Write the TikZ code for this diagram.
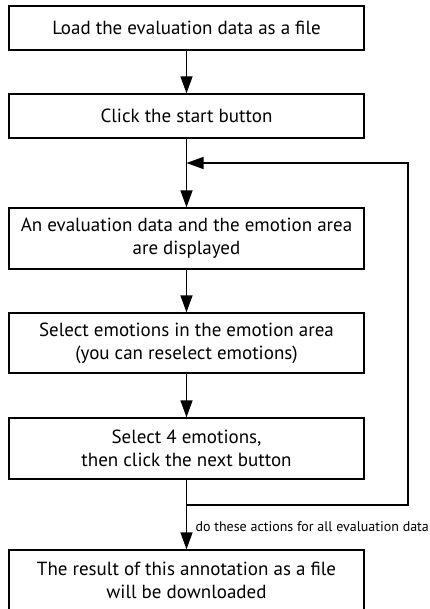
\documentclass[tikz,border=0pt]{standalone}
\usepackage{fontspec}
\setmainfont{PT Sans}
\usetikzlibrary{arrows.meta}

\tikzset{
  stepbox/.style={draw, line width=1.4pt, minimum width=355pt, inner sep=2pt, align=center, font=\fontsize{19}{23}\selectfont},
  flow/.style={line width=1.4pt, -{Triangle[length=17pt,width=12pt]}}
}

\begin{document}
\begin{tikzpicture}[x=1pt,y=-1pt]
			\useasboundingbox (0,0) rectangle (429,609);
			\node[stepbox, minimum height=44pt] (load) at (186.5,28) {Load the evaluation data as a file};
			\node[stepbox, minimum height=44pt] (start) at (186.5,116) {Click the start button};
			\node[stepbox, minimum height=61pt] (show) at (186.5,238.5) {An evaluation data and the emotion area\\are displayed};
			\node[stepbox, minimum height=60pt] (select) at (186.5,343) {Select emotions in the emotion area\\(you can reselect emotions)};
			\node[stepbox, minimum height=61pt] (next) at (186.5,448.5) {Select 4 emotions,\\then click the next button};
			\node[stepbox, minimum height=60pt] (result) at (186.5,580) {The result of this annotation as a file\\will be downloaded};
			\coordinate (join) at (186.5,163);
			\coordinate (split) at (186.5,505);
			\coordinate (corner) at (408,505);
			\draw[flow] (load) -- (start);
			\draw[flow] (start) -- (show);
			\draw[flow] (show) -- (select);
			\draw[flow] (select) -- (next);
			\draw[flow] (next) -- (result);
			\draw[flow] (split) -- (corner) |- (join);
			\node[anchor=west, font=\fontsize{14}{16}\selectfont] (note) at (192,527) {do these actions for all evaluation data};
\end{tikzpicture}
\end{document}
